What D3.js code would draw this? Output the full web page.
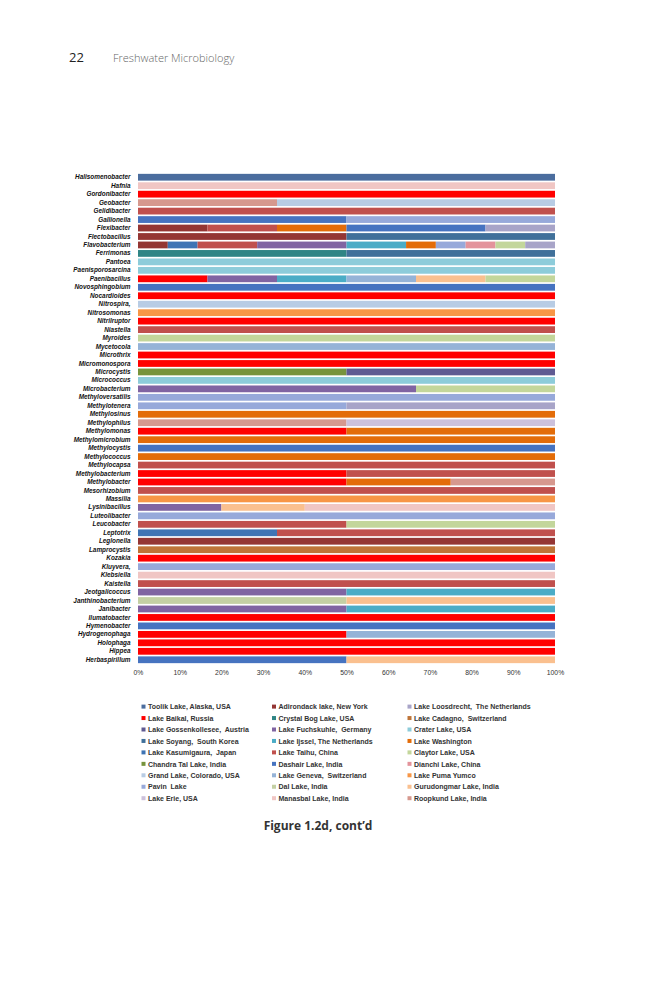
<!DOCTYPE html>
<html><head><meta charset="utf-8">
<script src="https://cdn.jsdelivr.net/npm/d3@7"></script>
<style>body{margin:0;background:#fff}svg{display:block}</style>
</head><body>
<svg id="c" width="666" height="1000"></svg>
<script>
// ---------- DATA ----------
const genera = ["Halisomenobacter","Hafnia","Gordonibacter","Geobacter","Gelidibacter","Gallionella","Flexibacter","Flectobacillus","Flavobacterium","Ferrimonas","Pantoea","Paenisporosarcina","Paenibacillus","Novosphingobium","Nocardioides","Nitrospira,","Nitrosomonas","Nitrilruptor","Niastella","Myroides","Mycetocola","Microthrix","Micromonospora","Microcystis","Micrococcus","Microbacterium","Methyloversatilis","Methylotenera","Methylosinus","Methylophilus","Methylomonas","Methylomicrobium","Methylocystis","Methylococcus","Methylocapsa","Methylobacterium","Methylobacter","Mesorhizobium","Massilia","Lysinibacillus","Luteolibacter","Leucobacter","Leptotrix","Leglonella","Lamprocystis","Kozakia","Kluyvera,","Klebsiella","Kaistella","Jeotgalicoccus","Janthinobacterium","Janibacter","Ilumatobacter","Hymenobacter","Hydrogenophaga","Holophaga","Hippea","Herbaspirillum"];

// lakes in legend order (read down each column)
const lakeKeys = ["toolik","baikal","gossenkollesee","soyang","kasumigaura","chandratal","grand","pavin","erie",
  "adirondack","crystalbog","fuchskuhle","ijssel","taihu","dashair","geneva","dal","manasbal",
  "loosdrecht","cadagno","crater","washington","claytor","dianchi","pumayumco","gurudongmar","roopkund"];
const lakeLabels = ["Toolik Lake, Alaska, USA","Lake Baikal, Russia","Lake Gossenkollesee,  Austria","Lake Soyang,  South Korea","Lake Kasumigaura,  Japan","Chandra Tal Lake, India","Grand Lake, Colorado, USA","Pavin  Lake","Lake Erie, USA",
  "Adirondack lake, New York","Crystal Bog Lake, USA","Lake Fuchskuhle,  Germany","Lake Ijssel, The Netherlands","Lake Taihu, China","Dashair Lake, India","Lake Geneva,  Switzerland","Dal Lake, India","Manasbal Lake, India",
  "Lake Loosdrecht,  The Netherlands","Lake Cadagno,  Switzerland","Crater Lake, USA","Lake Washington","Claytor Lake, USA","Dianchi Lake, China","Lake Puma Yumco","Gurudongmar Lake, India","Roopkund Lake, India"];
const lakeColors = ["#4b6d9e","#ff0000","#5f5a92","#40709a","#3f74b4","#77933c","#b8cce4","#97a9da","#ccc1dc",
  "#943634","#2f8585","#8064a2","#4bacc6","#c0504d","#4673c0","#95b3d7","#c4d0a4","#f0c6c4",
  "#a8a4c8","#be7438","#8dccda","#e36c09","#c3d69b","#e3939b","#f79646","#fac08f","#d6988e"];
// order of the series inside each stacked bar (left to right)
const stackOrder = ["toolik","baikal","adirondack","kasumigaura","taihu","fuchskuhle","ijssel","crystalbog","soyang",
  "chandratal","gossenkollesee","washington","dashair","pavin","dianchi","roopkund","grand","erie","geneva","dal",
  "gurudongmar","manasbal","claytor","loosdrecht","crater","pumayumco","cadagno"];

// number of reports of each genus per lake (one entry per genus, same order as genera)
const genusCounts = [
  {toolik:1},
  {manasbal:1},
  {baikal:1},
  {roopkund:1, grand:2},
  {taihu:1},
  {dashair:1, pavin:1},
  {adirondack:1, taihu:1, washington:1, dashair:2, loosdrecht:1},
  {adirondack:1, soyang:1},
  {adirondack:1, kasumigaura:1, taihu:2, fuchskuhle:3, ijssel:2, washington:1, pavin:1, dianchi:1, claytor:1, loosdrecht:1},
  {crystalbog:1, soyang:1},
  {crater:1},
  {crater:1},
  {baikal:1, fuchskuhle:1, ijssel:1, geneva:1, gurudongmar:1, claytor:1},
  {dashair:1},
  {baikal:1},
  {grand:1},
  {pumayumco:1},
  {baikal:1},
  {taihu:1},
  {claytor:1},
  {geneva:1},
  {baikal:1},
  {baikal:1},
  {chandratal:1, gossenkollesee:1},
  {crater:1},
  {fuchskuhle:2, claytor:1},
  {pavin:1},
  {pavin:1, loosdrecht:1},
  {washington:1},
  {roopkund:1, erie:1},
  {baikal:1, washington:1},
  {washington:1},
  {dashair:1},
  {washington:1},
  {taihu:1},
  {baikal:1, taihu:1},
  {baikal:2, washington:1, roopkund:1},
  {taihu:1},
  {pumayumco:1},
  {fuchskuhle:1, gurudongmar:1, manasbal:3},
  {pavin:1},
  {taihu:1, claytor:1},
  {kasumigaura:1, taihu:2},
  {adirondack:1},
  {cadagno:1},
  {baikal:1},
  {pavin:1},
  {manasbal:1},
  {taihu:1},
  {fuchskuhle:1, ijssel:1},
  {dal:1, gurudongmar:1},
  {fuchskuhle:1, ijssel:1},
  {baikal:1},
  {dashair:1},
  {baikal:1, geneva:1},
  {baikal:1},
  {baikal:1},
  {dashair:1, gurudongmar:1}
];
const tickValues = [0,0.1,0.2,0.3,0.4,0.5,0.6,0.7,0.8,0.9,1];

// ---------- CHART ----------
const svg = d3.select("#c");
const color = d3.scaleOrdinal().domain(lakeKeys).range(lakeColors);

const rows = genera.map((g,i)=>{
  const r = {genus:g};
  lakeKeys.forEach(k=> r[k] = genusCounts[i][k] || 0);
  return r;
});
const series = d3.stack().keys(stackOrder).offset(d3.stackOffsetExpand)(rows);

const x = d3.scaleLinear().domain([0,1]).range([138,555]);
const y = d3.scaleBand().domain(genera).range([173,664]).paddingInner(0.2).paddingOuter(0.1);

// header
svg.append("text").attr("x",69).attr("y",62).attr("font-family","'Open Sans', sans-serif")
  .attr("font-size",13).attr("fill","#222").text("22");
svg.append("text").attr("x",113).attr("y",62).attr("font-family","'Open Sans', sans-serif")
  .attr("font-size",11).attr("fill","#666").attr("font-weight",300).text("Freshwater Microbiology");

// bars
svg.append("g").selectAll("g").data(series).join("g")
  .attr("fill", d=>color(d.key))
  .selectAll("rect").data(d=>d).join("rect")
  .attr("x", d=>x(d[0]))
  .attr("width", d=>Math.max(0, x(d[1])-x(d[0])))
  .attr("y", d=>y(d.data.genus))
  .attr("height", y.bandwidth());

// y axis (category labels)
const ya = svg.append("g").attr("transform","translate(138,0)")
  .call(d3.axisLeft(y).tickSize(0).tickPadding(7.5));
ya.select(".domain").remove();
ya.selectAll("text").attr("font-family","'Liberation Sans', Arial, sans-serif")
  .attr("font-size",6.4).attr("font-weight","bold").attr("font-style","italic").attr("fill","#111");

// x axis
const xa = svg.append("g").attr("transform","translate(0,666)")
  .call(d3.axisBottom(x).tickValues(tickValues).tickFormat(d3.format(".0%")).tickSize(0).tickPadding(4.5));
xa.select(".domain").remove();
xa.selectAll("text").attr("font-family","'Liberation Sans', Arial, sans-serif")
  .attr("font-size",6.8).attr("fill","#333");

// legend
const swX = [141.5, 272, 407.5];
const txX = [148, 278.5, 414];
const leg = svg.append("g").selectAll("g").data(lakeKeys).join("g")
  .attr("transform",(d,i)=>`translate(0,${706.8 + (i%9)*11.45})`);
leg.append("rect").attr("x",(d,i)=>swX[Math.floor(i/9)]).attr("y",-2.2).attr("width",4).attr("height",4)
  .attr("fill",d=>color(d));
leg.append("text").attr("x",(d,i)=>txX[Math.floor(i/9)]).attr("y",2.5)
  .attr("font-family","'Liberation Sans', Arial, sans-serif").attr("font-size",7).attr("font-weight","bold")
  .attr("fill","#333").style("white-space","pre")
  .text((d,i)=>lakeLabels[i]);

// caption
svg.append("text").attr("x",318).attr("y",830).attr("text-anchor","middle")
  .attr("font-family","'Open Sans', sans-serif").attr("font-weight","bold").attr("font-size",12)
  .attr("fill","#333").text("Figure 1.2d, cont’d");
</script>
</body></html>
